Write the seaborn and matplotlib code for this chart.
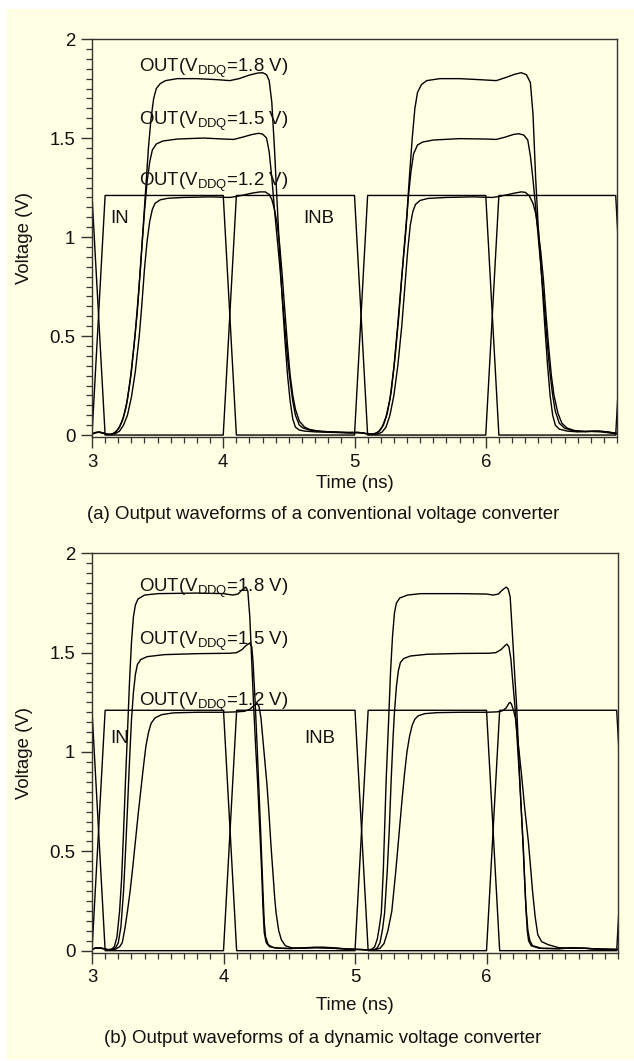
import matplotlib
matplotlib.use("Agg")
import matplotlib.pyplot as plt
from matplotlib.ticker import MultipleLocator, FixedLocator, FuncFormatter
from matplotlib.patches import Rectangle
import pandas as pd
import seaborn as sns

# ---------------- input stimuli (shared by both panels) ----------------
in_t = [3.0, 3.1, 4.0, 4.1, 5.0, 5.1, 6.0, 6.1, 6.99, 7.09]
in_v = [0.0, 1.21, 1.21, 0.0, 0.0, 1.21, 1.21, 0.0, 0.0, 1.21]
inb_t = [3.0, 3.1, 4.0, 4.1, 5.0, 5.1, 6.0, 6.1, 6.99, 7.09]
inb_v = [1.21, 0.0, 0.0, 1.21, 1.21, 0.0, 0.0, 1.21, 1.21, 0.0]

# ---------------- (a) conventional converter outputs ----------------
conv18_t = [3.00, 3.02, 3.05, 3.08, 3.11, 3.14, 3.17, 3.20, 3.23, 3.26, 3.29, 3.32, 3.345, 3.37,
            3.39, 3.41, 3.43, 3.45, 3.47, 3.49, 3.52, 3.56, 3.65, 3.80, 3.95, 4.05, 4.12, 4.20,
            4.26, 4.30, 4.33, 4.35, 4.37, 4.39, 4.41, 4.43, 4.45, 4.47, 4.49, 4.51, 4.53, 4.55,
            4.58, 4.62, 4.70, 4.80, 4.90, 4.98, 5.03, 5.08, 5.12, 5.16, 5.19, 5.22, 5.25, 5.28,
            5.31, 5.34, 5.37, 5.40, 5.42, 5.44, 5.46, 5.48, 5.51, 5.55, 5.65, 5.80, 5.95, 6.08,
            6.15, 6.22, 6.27, 6.31, 6.34, 6.36, 6.38, 6.40, 6.42, 6.45, 6.47, 6.49, 6.51, 6.53,
            6.56, 6.62, 6.70, 6.80, 6.88, 6.95, 7.00]
conv18_v = [0.005, 0.012, 0.015, 0.010, 0.004, 0.003, 0.010, 0.030, 0.070, 0.14, 0.27, 0.45, 0.62, 0.85,
            1.05, 1.25, 1.45, 1.60, 1.70, 1.75, 1.775, 1.79, 1.80, 1.80, 1.795, 1.79, 1.80, 1.818,
            1.828, 1.83, 1.82, 1.79, 1.68, 1.45, 1.18, 0.92, 0.68, 0.48, 0.30, 0.17, 0.08, 0.04,
            0.025, 0.020, 0.016, 0.014, 0.012, 0.010, 0.012, 0.008, 0.004, 0.008, 0.020, 0.050, 0.11, 0.22,
            0.40, 0.62, 0.88, 1.12, 1.32, 1.50, 1.65, 1.73, 1.77, 1.79, 1.80, 1.80, 1.795, 1.79,
            1.805, 1.822, 1.83, 1.82, 1.78, 1.62, 1.30, 1.05, 0.86, 0.55, 0.36, 0.20, 0.10, 0.05,
            0.03, 0.02, 0.016, 0.018, 0.016, 0.010, 0.006]

conv15_t = [3.00, 3.03, 3.06, 3.09, 3.12, 3.15, 3.18, 3.21, 3.24, 3.27, 3.30, 3.33, 3.355, 3.38,
            3.40, 3.42, 3.44, 3.46, 3.49, 3.54, 3.65, 3.85, 4.00, 4.08, 4.15, 4.22, 4.27, 4.30,
            4.33, 4.35, 4.37, 4.39, 4.41, 4.43, 4.45, 4.47, 4.49, 4.51, 4.53, 4.55, 4.58, 4.61,
            4.66, 4.75, 4.85, 4.95, 5.02, 5.07, 5.11, 5.15, 5.18, 5.21, 5.24, 5.27, 5.30, 5.33,
            5.36, 5.39, 5.41, 5.43, 5.45, 5.48, 5.52, 5.60, 5.80, 6.00, 6.08, 6.15, 6.21, 6.25,
            6.29, 6.32, 6.34, 6.36, 6.38, 6.40, 6.42, 6.44, 6.47, 6.49, 6.51, 6.53, 6.56, 6.60,
            6.66, 6.75, 6.85, 6.92, 7.00]
conv15_v = [0.005, 0.012, 0.014, 0.008, 0.003, 0.004, 0.015, 0.04, 0.09, 0.18, 0.32, 0.52, 0.72, 0.95,
            1.13, 1.28, 1.38, 1.44, 1.47, 1.485, 1.495, 1.50, 1.495, 1.493, 1.505, 1.518, 1.524, 1.52,
            1.50, 1.43, 1.30, 1.14, 1.00, 0.86, 0.70, 0.54, 0.39, 0.27, 0.17, 0.10, 0.05, 0.035,
            0.025, 0.018, 0.015, 0.012, 0.014, 0.010, 0.004, 0.006, 0.015, 0.04, 0.09, 0.18, 0.34, 0.56,
            0.80, 1.02, 1.20, 1.33, 1.42, 1.465, 1.48, 1.49, 1.497, 1.495, 1.493, 1.505, 1.518, 1.522,
            1.515, 1.49, 1.41, 1.29, 1.15, 1.00, 0.85, 0.70, 0.45, 0.31, 0.20, 0.12, 0.06, 0.035,
            0.022, 0.018, 0.020, 0.016, 0.008]

conv12_t = [3.00, 3.03, 3.06, 3.09, 3.12, 3.15, 3.18, 3.21, 3.24, 3.27, 3.30, 3.33, 3.36, 3.38,
            3.40, 3.42, 3.44, 3.46, 3.48, 3.52, 3.58, 3.70, 3.90, 4.05, 4.10, 4.16, 4.22, 4.28,
            4.32, 4.35, 4.37, 4.39, 4.41, 4.43, 4.45, 4.47, 4.49, 4.51, 4.53, 4.55, 4.58, 4.62,
            4.66, 4.72, 4.82, 4.92, 5.00, 5.05, 5.10, 5.14, 5.18, 5.21, 5.24, 5.27, 5.30, 5.33,
            5.36, 5.385, 5.405, 5.425, 5.445, 5.465, 5.50, 5.56, 5.70, 5.90, 6.05, 6.10, 6.16, 6.22,
            6.27, 6.30, 6.33, 6.36, 6.38, 6.40, 6.42, 6.44, 6.46, 6.48, 6.50, 6.52, 6.55, 6.58,
            6.62, 6.68, 6.76, 6.86, 6.93, 7.00]
conv12_v = [0.005, 0.013, 0.015, 0.010, 0.004, 0.003, 0.008, 0.02, 0.05, 0.10, 0.19, 0.32, 0.50, 0.66,
            0.84, 0.98, 1.08, 1.14, 1.17, 1.188, 1.196, 1.20, 1.203, 1.20, 1.205, 1.213, 1.222, 1.228,
            1.228, 1.215, 1.19, 1.14, 1.07, 0.96, 0.80, 0.62, 0.45, 0.30, 0.20, 0.13, 0.07, 0.04,
            0.028, 0.020, 0.016, 0.014, 0.013, 0.012, 0.006, 0.003, 0.006, 0.015, 0.04, 0.10, 0.20, 0.35,
            0.55, 0.76, 0.93, 1.06, 1.13, 1.165, 1.185, 1.195, 1.20, 1.203, 1.20, 1.205, 1.213, 1.222,
            1.228, 1.226, 1.21, 1.17, 1.12, 1.03, 0.92, 0.78, 0.60, 0.44, 0.30, 0.20, 0.11, 0.06,
            0.035, 0.022, 0.018, 0.020, 0.016, 0.008]

# ---------------- (b) dynamic converter outputs ----------------
dyn18_t = [3.00, 3.03, 3.06, 3.09, 3.12, 3.15, 3.17, 3.19, 3.21, 3.225, 3.24, 3.255, 3.27, 3.285,
           3.30, 3.315, 3.33, 3.35, 3.40, 3.50, 3.80, 4.00, 4.07, 4.11, 4.14, 4.17, 4.185, 4.20,
           4.215, 4.23, 4.245, 4.26, 4.275, 4.29, 4.30, 4.31, 4.325, 4.35, 4.42, 4.55, 4.65, 4.75,
           4.85, 4.95, 5.05, 5.10, 5.13, 5.15, 5.17, 5.185, 5.20, 5.215, 5.237, 5.255, 5.27, 5.285,
           5.30, 5.315, 5.34, 5.40, 5.50, 5.80, 6.00, 6.05, 6.09, 6.12, 6.15, 6.165, 6.18, 6.20,
           6.215, 6.23, 6.25, 6.265, 6.28, 6.29, 6.30, 6.31, 6.32, 6.34, 6.40, 6.55, 6.65, 6.75,
           6.85, 7.00]
dyn18_v = [0.008, 0.014, 0.014, 0.010, 0.005, 0.008, 0.02, 0.07, 0.20, 0.36, 0.60, 0.86, 1.10, 1.35,
           1.55, 1.68, 1.74, 1.77, 1.79, 1.797, 1.80, 1.797, 1.79, 1.795, 1.815, 1.83, 1.81, 1.68,
           1.45, 1.22, 1.02, 0.84, 0.62, 0.40, 0.22, 0.09, 0.04, 0.02, 0.012, 0.012, 0.016, 0.018,
           0.014, 0.008, 0.006, 0.004, 0.008, 0.02, 0.06, 0.12, 0.19, 0.40, 0.86, 1.15, 1.40, 1.58,
           1.70, 1.75, 1.775, 1.79, 1.797, 1.797, 1.795, 1.79, 1.795, 1.815, 1.83, 1.82, 1.78, 1.56,
           1.38, 1.22, 0.90, 0.70, 0.52, 0.36, 0.21, 0.10, 0.05, 0.025, 0.012, 0.010, 0.015, 0.012,
           0.008, 0.006]

dyn15_t = [3.00, 3.03, 3.06, 3.09, 3.12, 3.15, 3.18, 3.20, 3.22, 3.24, 3.255, 3.27, 3.285, 3.30,
           3.315, 3.33, 3.345, 3.37, 3.42, 3.55, 3.80, 4.05, 4.10, 4.14, 4.17, 4.20, 4.215, 4.225,
           4.24, 4.255, 4.27, 4.285, 4.30, 4.31, 4.32, 4.34, 4.38, 4.50, 4.60, 4.70, 4.80, 4.95,
           5.10, 5.15, 5.17, 5.19, 5.21, 5.225, 5.245, 5.26, 5.275, 5.29, 5.30, 5.315, 5.33, 5.345,
           5.37, 5.42, 5.55, 5.80, 6.02, 6.07, 6.11, 6.14, 6.155, 6.17, 6.185, 6.20, 6.22, 6.235,
           6.25, 6.265, 6.28, 6.29, 6.30, 6.315, 6.33, 6.35, 6.42, 6.55, 6.65, 6.75, 6.85, 7.00]
dyn15_v = [0.008, 0.013, 0.013, 0.010, 0.005, 0.006, 0.015, 0.04, 0.12, 0.30, 0.50, 0.72, 0.95, 1.16,
           1.30, 1.39, 1.44, 1.465, 1.48, 1.49, 1.495, 1.497, 1.50, 1.515, 1.535, 1.548, 1.53, 1.45,
           1.26, 1.04, 0.80, 0.56, 0.30, 0.14, 0.07, 0.03, 0.015, 0.010, 0.014, 0.016, 0.013, 0.008,
           0.004, 0.006, 0.015, 0.04, 0.11, 0.19, 0.40, 0.60, 0.86, 1.08, 1.20, 1.33, 1.41, 1.45,
           1.47, 1.483, 1.492, 1.496, 1.497, 1.50, 1.515, 1.535, 1.543, 1.53, 1.47, 1.35, 1.20, 1.04,
           0.88, 0.70, 0.50, 0.35, 0.22, 0.10, 0.05, 0.025, 0.012, 0.010, 0.014, 0.012, 0.008, 0.006]

dyn12_t = [3.00, 3.03, 3.06, 3.09, 3.12, 3.15, 3.18, 3.21, 3.23, 3.25, 3.27, 3.29, 3.31, 3.33,
           3.35, 3.37, 3.39, 3.41, 3.43, 3.45, 3.48, 3.53, 3.62, 3.80, 4.00, 4.10, 4.16, 4.20,
           4.235, 4.255, 4.27, 4.285, 4.30, 4.315, 4.33, 4.345, 4.36, 4.375, 4.39, 4.40, 4.42, 4.44,
           4.47, 4.52, 4.60, 4.70, 4.80, 4.95, 5.10, 5.16, 5.19, 5.22, 5.25, 5.28, 5.31, 5.33,
           5.355, 5.375, 5.395, 5.415, 5.435, 5.455, 5.48, 5.53, 5.62, 5.80, 6.00, 6.08, 6.12, 6.15,
           6.17, 6.18, 6.19, 6.205, 6.22, 6.245, 6.267, 6.29, 6.318, 6.335, 6.35, 6.37, 6.39, 6.42,
           6.47, 6.55, 6.65, 6.75, 6.85, 7.00]
dyn12_v = [0.008, 0.013, 0.013, 0.010, 0.005, 0.004, 0.008, 0.02, 0.04, 0.11, 0.20, 0.30, 0.42, 0.55,
           0.68, 0.80, 0.92, 1.03, 1.10, 1.145, 1.172, 1.188, 1.197, 1.20, 1.20, 1.202, 1.205, 1.215,
           1.235, 1.245, 1.23, 1.17, 1.06, 0.95, 0.84, 0.70, 0.54, 0.40, 0.26, 0.19, 0.10, 0.055,
           0.025, 0.014, 0.012, 0.015, 0.014, 0.008, 0.004, 0.006, 0.012, 0.035, 0.10, 0.20, 0.40, 0.55,
           0.74, 0.88, 1.00, 1.08, 1.135, 1.165, 1.182, 1.193, 1.198, 1.20, 1.20, 1.202, 1.207, 1.222,
           1.245, 1.25, 1.24, 1.21, 1.17, 1.02, 0.88, 0.72, 0.55, 0.42, 0.30, 0.17, 0.08, 0.045,
           0.03, 0.015, 0.012, 0.012, 0.008, 0.006]

# trace labels and text positions
out_labels = ["1.8", "1.5", "1.2"]
label_t = 3.36
label_v_a = [1.835, 1.566, 1.259]
label_v_b = [1.806, 1.538, 1.235]
in_label_pos_a = [(3.137, 1.072), (4.613, 1.072)]
in_label_pos_b = [(3.137, 1.047), (4.613, 1.047)]
y_ticks = [0, 0.5, 1, 1.5, 2]
x_ticks = [3, 4, 5, 6]
captions = ["(a) Output waveforms of a conventional voltage converter",
            "(b) Output waveforms of a dynamic voltage converter"]

BG = "#FFFFE3"
INK = "#111111"
FS = 13.4

sns.set_theme(style="ticks")
plt.rcParams["font.family"] = ["Liberation Sans", "DejaVu Sans"]
plt.rcParams["mathtext.fontset"] = "custom"
plt.rcParams["mathtext.rm"] = "Liberation Sans"
plt.rcParams["text.color"] = INK
plt.rcParams["axes.labelcolor"] = INK
plt.rcParams["xtick.color"] = "#333333"
plt.rcParams["ytick.color"] = "#333333"
plt.rcParams["xtick.labelcolor"] = INK
plt.rcParams["ytick.labelcolor"] = INK

fig = plt.figure(figsize=(6.34, 10.61), dpi=100, facecolor="white")
fig.patches.append(Rectangle((6 / 634, 2 / 1061), 1 - 6 / 634, 1050 / 1061,
                             transform=fig.transFigure, facecolor=BG,
                             edgecolor="none", zorder=-10))

ax_a = fig.add_axes([0.1451, 0.5881, 0.8281, 0.3751])
ax_b = fig.add_axes([0.1451, 0.1021, 0.8297, 0.3764])


def traces_frame(outs):
    parts = [pd.DataFrame({"t": in_t, "V": in_v, "trace": "IN"}),
             pd.DataFrame({"t": inb_t, "V": inb_v, "trace": "INB"})]
    for name, (t, v) in outs.items():
        parts.append(pd.DataFrame({"t": t, "V": v, "trace": name}))
    return pd.concat(parts, ignore_index=True)


def draw_panel(ax, outs, label_vs, in_pos, xlabel_y, caption, caption_y):
    df = traces_frame(outs)
    sns.lineplot(data=df, x="t", y="V", units="trace", estimator=None, sort=False,
                 color="black", linewidth=1.0, ax=ax, legend=False)
    ax.set_facecolor("none")
    ax.set_xlim(3, 7)
    ax.set_ylim(-0.01, 2.0)
    ax.xaxis.set_major_locator(FixedLocator(x_ticks))
    ax.xaxis.set_minor_locator(MultipleLocator(0.1))
    ax.yaxis.set_major_locator(FixedLocator(y_ticks))
    ax.yaxis.set_minor_locator(MultipleLocator(0.05))
    ax.yaxis.set_major_formatter(FuncFormatter(lambda v, p: f"{v:g}"))
    ax.tick_params(which="major", direction="out", length=8, width=1.0,
                   labelsize=FS, pad=4.0, top=False, right=False)
    ax.tick_params(which="minor", direction="out", length=4.5, width=0.9,
                   top=False, right=False)
    for sp in ax.spines.values():
        sp.set_visible(True)
        sp.set_color("#333333")
        sp.set_linewidth(1.0)
    ax.set_xlabel("Time (ns)", fontsize=FS)
    ax.set_ylabel("Voltage (V)", fontsize=FS)
    ax.xaxis.set_label_coords(0.5, xlabel_y)
    ax.yaxis.set_label_coords(-0.112, 0.5)
    for lab, v in zip(out_labels, label_vs):
        ax.text(label_t, v, f"OUT(V$_{{\\mathregular{{DDQ}}}}$={lab} V)",
                fontsize=FS, ha="left", va="baseline")
    ax.text(in_pos[0][0], in_pos[0][1], "IN", fontsize=FS, ha="left", va="baseline")
    ax.text(in_pos[1][0], in_pos[1][1], "INB", fontsize=FS, ha="left", va="baseline")
    fig.text(0.509, caption_y, caption, fontsize=FS, ha="center", va="baseline")


draw_panel(ax_a,
           {"1.8": (conv18_t, conv18_v), "1.5": (conv15_t, conv15_v), "1.2": (conv12_t, conv12_v)},
           label_v_a, in_label_pos_a, -0.095, captions[0], 1 - 519.3 / 1061)
draw_panel(ax_b,
           {"1.8": (dyn18_t, dyn18_v), "1.5": (dyn15_t, dyn15_v), "1.2": (dyn12_t, dyn12_v)},
           label_v_b, in_label_pos_b, -0.112, captions[1], 1 - 1042.7 / 1061)

fig.savefig("out.png", dpi=100, facecolor=fig.get_facecolor())
